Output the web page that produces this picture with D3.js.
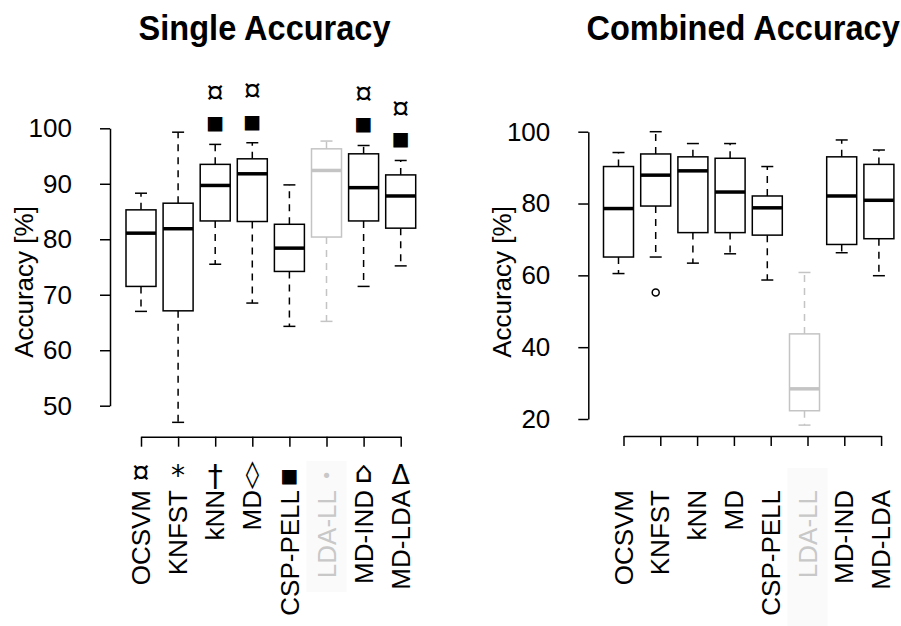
<!DOCTYPE html>
<html>
<head>
<meta charset="utf-8">
<script src="https://cdn.jsdelivr.net/npm/d3@7"></script>
<style>
  body { margin: 0; background: #fff; }
  svg { display: block; font-family: "Liberation Sans", Arial, sans-serif; }
</style>
</head>
<body>
<div id="chart"></div>
<script>
// methods and the marker symbol shown next to each name in the left panel
let methods = ['OCSVM', 'KNFST', 'kNN', 'MD', 'CSP-PELL', 'LDA-LL', 'MD-IND', 'MD-LDA'];
let methodSymbols = ['¤', '*', '†', '◊', '■', '•', '⌂', 'Δ'];
let greyMethod = 'LDA-LL';

// single accuracy boxplot stats (%)
let singleLow    = [67.0, 47.0, 75.5, 68.5, 64.3, 65.2, 71.5, 75.2];
let singleQ1     = [71.5, 67.1, 83.3, 83.2, 74.2, 80.4, 83.3, 82.0];
let singleMedian = [81.1, 81.9, 89.7, 91.8, 78.4, 92.4, 89.3, 87.8];
let singleQ3     = [85.3, 86.5, 93.5, 94.5, 82.7, 96.3, 95.4, 91.6];
let singleHigh   = [88.3, 99.3, 97.1, 97.4, 89.8, 97.7, 96.9, 94.2];

// significance markers drawn above the single accuracy boxes
let singleSigMethods = ['kNN', 'MD', 'MD-IND', 'MD-LDA'];
let singleSigSymbols = ['■', '¤'];

// combined accuracy boxplot stats (%)
let combinedLow    = [60.5, 65.1, 63.4, 66.0, 58.7, 18.3, 66.3, 59.9];
let combinedQ1     = [65.1, 79.3, 71.9, 71.9, 71.2, 22.3, 68.6, 70.2];
let combinedMedian = [78.6, 87.9, 89.1, 83.2, 78.8, 28.4, 82.1, 80.9];
let combinedQ3     = [90.3, 93.8, 93.0, 92.6, 82.1, 43.7, 93.0, 90.9];
let combinedHigh   = [94.2, 100.0, 96.7, 96.7, 90.3, 60.8, 97.7, 94.9];
let combinedOutlierMethods = ['KNFST'];
let combinedOutlierValues  = [55.2];

let singleTicks = [50, 60, 70, 80, 90, 100];
let combinedTicks = [20, 40, 60, 80, 100];

let svgWidth = 901;
let svgHeight = 626;
let grey = '#c4c4c4';
// glyph face, size and nudge so the symbols come out roughly equal
let symbolFace = { '¤': '"Noto Sans", sans-serif' };
let symbolSize = { '¤': 32, '*': 28, '†': 30, '◊': 27, '■': 19, '•': 18, '⌂': 29, 'Δ': 27 };
let symbolNudge = { '¤': -4, '◊': -2, '⌂': -3, 'Δ': -1 };
let faceOf = s => symbolFace[s] || '"DejaVu Sans", sans-serif';
let nudgeOf = s => symbolNudge[s] || 0;

let svg = d3.select('#chart').append('svg')
  .attr('width', svgWidth)
  .attr('height', svgHeight);

function toRows(low, q1, med, q3, high) {
  return methods.map((m, i) => ({
    method: m, low: low[i], q1: q1[i], median: med[i], q3: q3[i], high: high[i]
  }));
}

function drawPanel(p) {
  let g = svg.append('g');

  let y = d3.scaleLinear().domain(p.yDomain).range(p.yRange);
  let xBox = d3.scalePoint().domain(methods).range(p.boxRange);
  let xTick = d3.scalePoint().domain(methods).range(p.tickRange);
  let colour = m => m === greyMethod ? grey : '#000';

  // faint band behind the greyed method name
  g.append('rect')
    .attr('x', xTick(greyMethod) - 20)
    .attr('y', p.bandTop)
    .attr('width', 40)
    .attr('height', p.bandBottom - p.bandTop)
    .attr('fill', '#fafafa');

  // title
  g.append('text')
    .attr('transform', `translate(${p.titleX}, 40) scale(0.93, 1)`)
    .attr('font-size', '35px')
    .attr('font-weight', 'bold')
    .text(p.title);

  // y axis
  let yAxis = g.append('g')
    .attr('transform', `translate(${p.axisX}, 0)`)
    .call(d3.axisLeft(y).tickValues(p.ticks).tickSize(10).tickSizeOuter(0).tickPadding(28));
  yAxis.selectAll('path, line').attr('stroke', '#000').attr('stroke-width', 1.5);
  yAxis.selectAll('text').attr('font-size', '26px').attr('fill', '#000')
    .attr('font-family', '"Liberation Sans", Arial, sans-serif');

  g.append('text')
    .attr('transform', `translate(${p.ylabX}, 282) rotate(-90)`)
    .attr('text-anchor', 'middle')
    .attr('font-size', '26px')
    .text('Accuracy [%]');

  // x axis with rotated method names
  let xAxis = g.append('g')
    .attr('transform', `translate(0, ${p.xAxisY})`)
    .call(d3.axisBottom(xTick).tickSize(10).tickSizeOuter(0).tickFormat(''));
  xAxis.selectAll('path, line').attr('stroke', '#000').attr('stroke-width', 1.5);

  g.selectAll('.methodLabel')
    .data(methods)
    .enter()
    .append('text')
    .attr('class', 'methodLabel')
    .attr('transform', d => `translate(${xTick(d)}, 490) rotate(-90)`)
    .attr('dy', '0.35em')
    .attr('text-anchor', 'end')
    .attr('font-size', '26px')
    .attr('fill', d => d === greyMethod ? '#c8c8c8' : '#000')
    .text(d => d);

  if (p.symbols) {
    g.selectAll('.methodSymbol')
      .data(methods)
      .enter()
      .append('text')
      .attr('class', 'methodSymbol')
      .attr('x', d => xTick(d))
      .attr('y', (d, i) => 475 + nudgeOf(p.symbols[i]))
      .attr('dominant-baseline', 'central')
      .attr('text-anchor', 'middle')
      .attr('font-family', (d, i) => faceOf(p.symbols[i]))
      .attr('font-size', (d, i) => symbolSize[p.symbols[i]] + 'px')
      .attr('fill', d => d === greyMethod ? '#c8c8c8' : '#000')
      .text((d, i) => p.symbols[i]);
  }

  // boxes
  let half = 15;
  let cap = 6;
  let boxes = g.selectAll('.box')
    .data(p.rows)
    .enter()
    .append('g')
    .attr('class', 'box');

  boxes.append('line')
    .attr('x1', d => xBox(d.method)).attr('x2', d => xBox(d.method))
    .attr('y1', d => y(d.q3)).attr('y2', d => y(d.high))
    .attr('stroke', d => colour(d.method)).attr('stroke-width', 1.5)
    .attr('stroke-dasharray', '7,6');
  boxes.append('line')
    .attr('x1', d => xBox(d.method)).attr('x2', d => xBox(d.method))
    .attr('y1', d => y(d.q1)).attr('y2', d => y(d.low))
    .attr('stroke', d => colour(d.method)).attr('stroke-width', 1.5)
    .attr('stroke-dasharray', '7,6');

  ['low', 'high'].forEach(k => {
    boxes.append('line')
      .attr('x1', d => xBox(d.method) - cap).attr('x2', d => xBox(d.method) + cap)
      .attr('y1', d => y(d[k])).attr('y2', d => y(d[k]))
      .attr('stroke', d => colour(d.method)).attr('stroke-width', 1.5);
  });

  boxes.append('rect')
    .attr('x', d => xBox(d.method) - half)
    .attr('y', d => y(d.q3))
    .attr('width', half * 2)
    .attr('height', d => y(d.q1) - y(d.q3))
    .attr('fill', '#fff')
    .attr('stroke', d => colour(d.method))
    .attr('stroke-width', 1.5);

  boxes.append('line')
    .attr('x1', d => xBox(d.method) - half).attr('x2', d => xBox(d.method) + half)
    .attr('y1', d => y(d.median)).attr('y2', d => y(d.median))
    .attr('stroke', d => colour(d.method)).attr('stroke-width', 3.5);

  if (p.outlierMethods) {
    g.selectAll('.outlier')
      .data(p.outlierMethods)
      .enter()
      .append('circle')
      .attr('class', 'outlier')
      .attr('cx', d => xBox(d))
      .attr('cy', (d, i) => y(p.outlierValues[i]))
      .attr('r', 3.5)
      .attr('fill', 'none')
      .attr('stroke', '#000')
      .attr('stroke-width', 1.5);
  }

  if (p.sigMethods) {
    let sigRows = p.rows.filter(r => p.sigMethods.includes(r.method));
    p.sigSymbols.forEach((s, k) => {
      g.selectAll('.sig' + k)
        .data(sigRows)
        .enter()
        .append('text')
        .attr('x', d => xBox(d.method))
        .attr('y', d => y(d.high) - 22 - 27 * k + nudgeOf(s))
        .attr('dominant-baseline', 'central')
        .attr('text-anchor', 'middle')
        .attr('font-family', faceOf(s))
        .attr('font-size', symbolSize[s] + 'px')
        .text(s);
    });
  }
}

drawPanel({
  title: 'Single Accuracy',
  titleX: 138.6,
  rows: toRows(singleLow, singleQ1, singleMedian, singleQ3, singleHigh),
  yDomain: [50, 100],
  yRange: [405.7, 128.3],
  ticks: singleTicks,
  axisX: 110,
  ylabX: 33,
  xAxisY: 436.7,
  boxRange: [141, 400.7],
  tickRange: [141, 400.7],
  bandTop: 461,
  bandBottom: 592,
  symbols: methodSymbols,
  sigMethods: singleSigMethods,
  sigSymbols: singleSigSymbols
});

drawPanel({
  title: 'Combined Accuracy',
  titleX: 586.4,
  rows: toRows(combinedLow, combinedQ1, combinedMedian, combinedQ3, combinedHigh),
  yDomain: [20, 100],
  yRange: [419, 131.7],
  ticks: combinedTicks,
  axisX: 588.3,
  ylabX: 511,
  xAxisY: 436,
  boxRange: [618.5, 878.9],
  tickRange: [623.5, 881.1],
  bandTop: 468,
  bandBottom: 626,
  outlierMethods: combinedOutlierMethods,
  outlierValues: combinedOutlierValues
});
</script>
</body>
</html>
